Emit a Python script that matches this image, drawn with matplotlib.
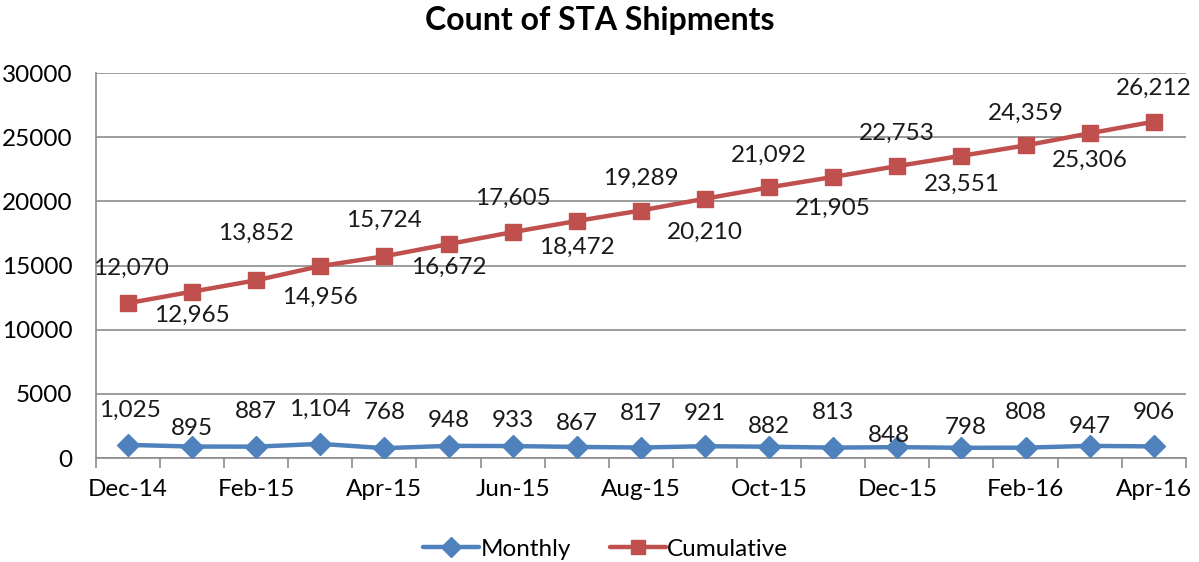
import matplotlib
matplotlib.use("Agg")
import matplotlib.pyplot as plt
import numpy as np

months = ["Dec-14", "Jan-15", "Feb-15", "Mar-15", "Apr-15", "May-15", "Jun-15", "Jul-15",
          "Aug-15", "Sep-15", "Oct-15", "Nov-15", "Dec-15", "Jan-16", "Feb-16", "Mar-16", "Apr-16"]
monthly = [1025, 895, 887, 1104, 768, 948, 933, 867, 817, 921, 882, 813, 848, 798, 808, 947, 906]
cumulative = [12070, 12965, 13852, 14956, 15724, 16672, 17605, 18472, 19289, 20210,
              21092, 21905, 22753, 23551, 24359, 25306, 26212]

# label offsets in pixels (dx, dy)
monthly_off = [(2, 35), (0, 18), (0, 35), (0, 35), (0, 36), (0, 25), (0, 26), (0, 23), (0, 34),
               (0, 33), (0, 20), (0, 35), (-8, 12), (4, 20), (0, 35), (0, 19), (0, 34)]
cum_off = [(3, 35), (0, -24), (0, 47), (0, -31), (0, 36), (0, -23), (0, 34), (0, -26), (0, 32),
           (0, -34), (0, 32), (0, -31), (0, 33), (0, -29), (0, 32), (0, -27), (0, 33)]

plt.rcParams['font.family'] = ['Lato', 'DejaVu Sans']

blue = "#4F81BD"
red = "#C0504D"
FS = 17.5

fig = plt.figure(figsize=(11.99, 5.62), dpi=100)
ax = fig.add_axes([0.080, 0.185, 0.909, 0.685])

x = np.arange(len(months))
ax.plot(x, monthly, color=blue, lw=3.2, marker="D", ms=11, mfc=blue, mec=blue,
        label="Monthly", zorder=3, solid_capstyle="round")
ax.plot(x, cumulative, color=red, lw=3.2, marker="s", ms=11, mfc=red, mec=red,
        label="Cumulative", zorder=3, solid_capstyle="round")

for xi, v, (dx, dy) in zip(x, monthly, monthly_off):
    ax.annotate(f"{v:,}", (xi, v), xytext=(dx, dy), textcoords="offset pixels",
                ha="center", va="center", fontsize=FS, color="#1a1a1a")
for xi, v, (dx, dy) in zip(x, cumulative, cum_off):
    ax.annotate(f"{v:,}", (xi, v), xytext=(dx, dy), textcoords="offset pixels",
                ha="center", va="center", fontsize=FS, color="#1a1a1a")

ax.set_xlim(-0.5, len(months) - 0.5)
ax.set_ylim(0, 30000)
ax.set_yticks(np.arange(0, 30001, 5000))
ax.set_yticklabels([str(v) for v in range(0, 30001, 5000)], fontsize=FS)
ax.yaxis.grid(True, color="#8c8c8c", lw=1.2)
ax.set_axisbelow(True)
ax.tick_params(axis="y", length=0, pad=17)

ax.set_xticks(x[::2])
ax.set_xticklabels(months[::2], fontsize=FS)
ax.set_xticks(np.arange(-0.5, len(months), 1), minor=True)
ax.tick_params(axis="x", which="major", length=0, pad=15)
ax.tick_params(axis="x", which="minor", length=7, color="#8c8c8c", width=1.2)

for s in ["top", "right"]:
    ax.spines[s].set_visible(False)
ax.spines["left"].set_color("#8c8c8c")
ax.spines["bottom"].set_color("#8c8c8c")
ax.spines["left"].set_linewidth(1.2)
ax.spines["bottom"].set_linewidth(1.2)

fig.suptitle("Count of STA Shipments", fontsize=23, fontweight="bold", y=0.99)

leg = fig.legend(loc="lower center", bbox_to_anchor=(0.505, -0.035), ncol=2, frameon=False,
                 fontsize=FS, handlelength=2.3, handletextpad=0.05, columnspacing=1.6,
                 markerscale=0.9)

fig.savefig("out.png", dpi=100)
